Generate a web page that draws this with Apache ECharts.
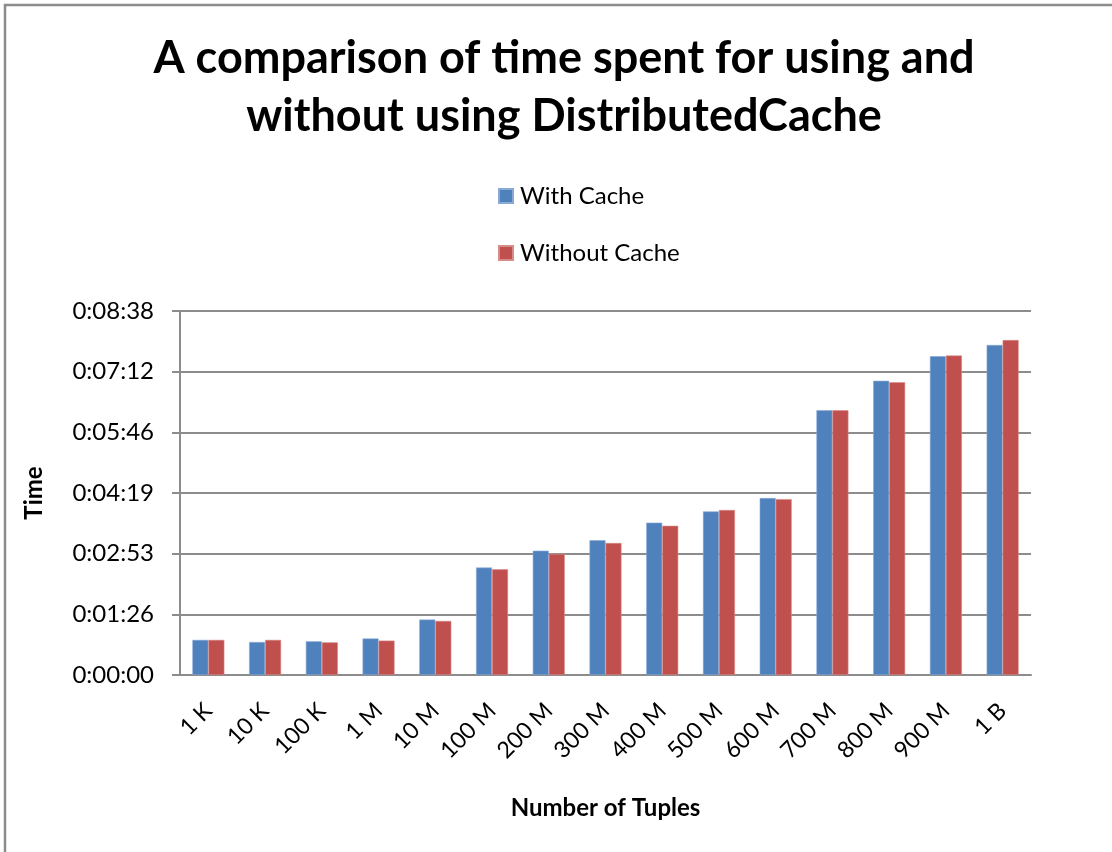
<!DOCTYPE html>
<html>
<head>
<meta charset="utf-8">
<script src="https://cdn.jsdelivr.net/npm/echarts@6/dist/echarts.min.js"></script>
<style>
html,body{margin:0;padding:0;background:#fff;}
#chart{width:1112px;height:852px;}
</style>
</head>
<body>
<div id="chart"></div>
<script>
var categories = ['1 K','10 K','100 K','1 M','10 M','100 M','200 M','300 M','400 M','500 M','600 M','700 M','800 M','900 M','1 B'];
// times in seconds
var withCache = [50, 47, 48, 52, 79, 153, 177, 192, 217, 233, 252, 377, 419, 454, 470];
var withoutCache = [50, 50, 46.5, 49, 77, 150.5, 172.5, 188, 212.5, 235, 250.5, 377, 417, 455, 477];
var yTickLabels = ['0:00:00','0:01:26','0:02:53','0:04:19','0:05:46','0:07:12','0:08:38'];
var yStep = 86.4;

var chart = echarts.init(document.getElementById('chart'));
var grey = '#8c8c8c';
var font = 'Lato, "Open Sans", sans-serif';
chart.setOption({
  animation: false,
  backgroundColor: '#fff',
  graphic: [{
    type: 'rect', z: 100, silent: true,
    shape: {x: 5, y: 5, width: 1200, height: 900},
    style: {fill: 'none', stroke: grey, lineWidth: 2.5}
  }],
  title: {
    text: 'A comparison of time spent for using and\nwithout using DistributedCache',
    left: 559, top: 24, textAlign: 'center',
    textStyle: {fontFamily: font, fontWeight: 'bold', fontSize: 45, lineHeight: 58, color: '#000'}
  },
  legend: {
    orient: 'vertical', left: 493, top: 179,
    itemWidth: 14, itemHeight: 14, itemGap: 33,
    icon: 'rect',
    textStyle: {fontFamily: font, fontSize: 24, color: '#000', padding: [0,0,0,2]},
    data: ['With Cache', 'Without Cache']
  },
  grid: {left: 180, right: 81, top: 311, bottom: 177, containLabel: false},
  xAxis: {
    type: 'category', data: categories,
    name: 'Number of Tuples', nameLocation: 'middle', nameGap: 121,
    nameTextStyle: {fontFamily: font, fontWeight: 'bold', fontSize: 24, color: '#000'},
    axisLine: {show: true, lineStyle: {color: grey, width: 2}},
    axisTick: {show: false},
    axisLabel: {rotate: 45, margin: 32, fontFamily: font, fontSize: 23, color: '#000'}
  },
  yAxis: {
    type: 'value', min: 0, max: yStep * 6, interval: yStep,
    name: 'Time', nameLocation: 'middle', nameGap: 134, nameRotate: 90,
    nameTextStyle: {fontFamily: font, fontWeight: 'bold', fontSize: 24, color: '#000'},
    axisLine: {show: true, lineStyle: {color: grey, width: 2}},
    axisTick: {show: true, length: 8, lineStyle: {color: grey, width: 2}},
    splitLine: {show: true, lineStyle: {color: grey, width: 2}},
    axisLabel: {
      margin: 26, fontFamily: font, fontSize: 24, color: '#000',
      formatter: function (v) { return yTickLabels[Math.round(v / yStep)]; }
    }
  },
  series: [
    {name: 'With Cache', type: 'bar', data: withCache, barWidth: 16, barGap: '0%',
     itemStyle: {color: '#4F81BD', borderColor: '#8aaad6', borderWidth: 0.6}},
    {name: 'Without Cache', type: 'bar', data: withoutCache, barWidth: 16, barGap: '0%',
     itemStyle: {color: '#C0504D', borderColor: '#d88c8a', borderWidth: 0.6}}
  ]
});
</script>
</body>
</html>
